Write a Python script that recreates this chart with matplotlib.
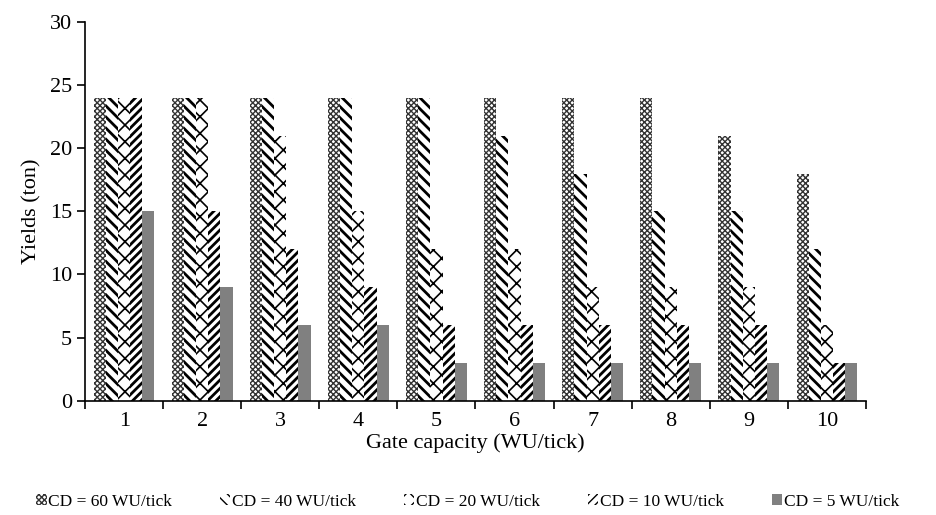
import numpy as np
import matplotlib
matplotlib.use("Agg")
import matplotlib.pyplot as plt

# Data
gates = [1, 2, 3, 4, 5, 6, 7, 8, 9, 10]
series_labels = ["CD = 60 WU/tick", "CD = 40 WU/tick", "CD = 20 WU/tick",
                 "CD = 10 WU/tick", "CD = 5 WU/tick"]
cd60 = [24, 24, 24, 24, 24, 24, 24, 24, 21, 18]
cd40 = [24, 24, 24, 24, 24, 21, 18, 15, 15, 12]
cd20 = [24, 24, 21, 15, 12, 12, 9, 9, 9, 6]
cd10 = [24, 15, 12, 9, 6, 6, 6, 6, 6, 3]
cd5 = [15, 9, 6, 6, 3, 3, 3, 3, 3, 3]

plt.rcParams["font.family"] = ["Liberation Serif", "DejaVu Serif"]

fig, ax = plt.subplots(figsize=(9.36, 5.15), dpi=100)
fig.subplots_adjust(left=0.091, right=0.925, top=0.957, bottom=0.222)

x = np.arange(len(gates))
n = 5
w = 0.155
# (face, hatch, hatch colour, hatch line width)
styles = [
    ("white", "xxxxxx", "#333333", 1.0),
    ("white", "\\\\\\", "black", 2.0),
    ("white", "xx", "black", 1.2),
    ("white", "////", "black", 2.0),
    ("#808080", "", "#808080", 1.0),
]
all_series = [cd60, cd40, cd20, cd10, cd5]
for i, (vals, lab, st) in enumerate(zip(all_series, series_labels, styles)):
    offs = (i - (n - 1) / 2) * w
    with plt.rc_context({"hatch.linewidth": st[3]}):
        ax.bar(x + offs, vals, width=w, label=lab, facecolor=st[0],
               hatch=st[1], edgecolor=st[2], linewidth=0)

ax.set_xlim(-0.5, len(gates) - 0.5)
ax.set_ylim(0, 30)
ax.set_yticks(range(0, 31, 5))
ax.set_xticks(x)
ax.set_xticklabels([str(g) for g in gates])
ax.set_xticks(np.arange(-0.5, len(gates), 1), minor=True)
ax.tick_params(axis="x", which="major", length=0, labelsize=16, pad=8)
ax.tick_params(axis="x", which="minor", length=6, width=1.2, direction="out")
ax.tick_params(axis="y", labelsize=16, length=6, width=1.2, direction="out")
ax.spines["top"].set_visible(False)
ax.spines["right"].set_visible(False)
ax.spines["left"].set_linewidth(1.2)
ax.spines["bottom"].set_linewidth(1.2)

ax.set_xlabel("Gate capacity (WU/tick)", fontsize=16, labelpad=2)
ax.set_ylabel("Yields (ton)", fontsize=16, labelpad=6)

ax.legend(loc="upper center", bbox_to_anchor=(0.49, -0.205), ncol=5,
          frameon=False, fontsize=12.5, handlelength=0.6, handleheight=0.6,
          handletextpad=0.1, columnspacing=2.75)

fig.savefig("out.png", dpi=100)
